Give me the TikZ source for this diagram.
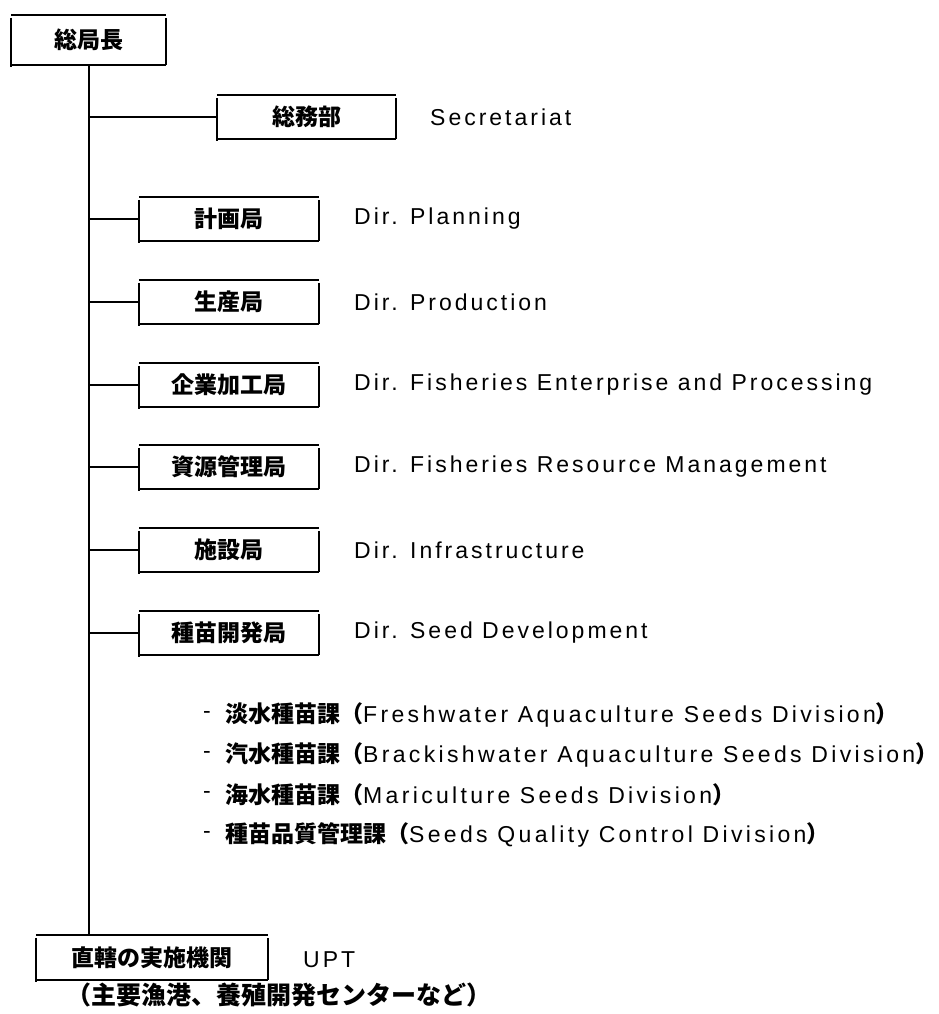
\documentclass[tikz,border=0pt]{standalone}
\usepackage{fontspec}
\setmainfont{Liberation Sans}
\newfontfamily\en{Liberation Sans}[LetterSpace=13]
\newfontfamily\ensub{Liberation Sans}[LetterSpace=14.5]
\newfontfamily\cjk{Noto Sans CJK JP}
\newcommand{\jb}{\cjk\bfseries\fontsize{23}{27}\selectfont}
\newcommand{\ensz}{\en\fontsize{23}{27}\selectfont}
\newcommand{\enssz}{\ensub\fontsize{23}{27}\selectfont}
\tikzset{
  orgbox/.style={inner sep=0pt, minimum height=44pt, font=\jb},
  lbl/.style={anchor=west, inner sep=0pt, font=\ensz},
  subline/.style={anchor=west, inner sep=0pt},
  conn/.style={line width=2pt},
  boxline/.style={line width=2pt},
}
\begin{document}
\begin{tikzpicture}[x=1pt,y=-1pt]
\useasboundingbox (0,0) rectangle (939,1014);
% boxes
\node[orgbox, minimum width=155pt, minimum height=50pt] (gm) at (88.5,40) {総局長};
\node[orgbox, minimum width=179pt] (sec) at (306.5,117) {総務部};
\node[orgbox, minimum width=180pt] (d1) at (229,219) {計画局};
\node[orgbox, minimum width=180pt] (d2) at (229,302) {生産局};
\node[orgbox, minimum width=180pt] (d3) at (229,385) {企業加工局};
\node[orgbox, minimum width=180pt] (d4) at (229,467) {資源管理局};
\node[orgbox, minimum width=180pt] (d5) at (229,550) {施設局};
\node[orgbox, minimum width=180pt] (d6) at (229,633) {種苗開発局};
\node[orgbox, minimum width=232pt, minimum height=45pt] (upt) at (152,957.5) {直轄の実施機関};
\foreach \n in {gm,sec,d1,d2,d3,d4,d5,d6,upt} {
  \draw[boxline] (\n.north west) -- (\n.north east);
  \draw[boxline] ([yshift=-3pt]\n.north west) -- ([yshift=-1.5pt]\n.south west);
  \draw[boxline] ([yshift=-3pt]\n.north east) -- (\n.south east);
  \draw[boxline] (\n.south west) -- (\n.south east);
}
% english labels
\node[lbl] (lsec) at (430,117) {Secretariat};
\node[lbl] (l1) at (354,219) {Dir. Planning};
\node[lbl] (l2) at (354,302) {Dir. Production};
\node[lbl] (l3) at (354,385) {Dir. Fisheries Enterprise and Processing};
\node[lbl] (l4) at (354,467) {Dir. Fisheries Resource Management};
\node[lbl] (l5) at (354,550) {Dir. Infrastructure};
\node[lbl] (l6) at (354,633) {Dir. Seed Development};
\node[lbl] (lupt) at (303,960) {UPT};
% sub divisions
\foreach \y/\j/\e [count=\i] in {
  715/淡水種苗課/Freshwater Aquaculture Seeds Division,
  755/汽水種苗課/Brackishwater Aquaculture Seeds Division,
  795/海水種苗課/Mariculture Seeds Division,
  835/種苗品質管理課/Seeds Quality Control Division} {
  \node[subline, font=\ensz] (dash\i) at (203,\y) {-};
  \node[subline] (s\i) at (225,\y) {{\jb \j（}{\enssz \e}{\jb ）}};
}
\node[subline, font=\cjk\bfseries\fontsize{25}{29}\selectfont] (note) at (66,995) {（主要漁港、養殖開発センターなど）};
% connectors
\coordinate (tb) at (gm.south |- upt.north);
\draw[conn] (gm.south) -- (tb);
\foreach \n in {sec,d1,d2,d3,d4,d5,d6} {
  \draw[conn] (gm.south |- \n.west) -- (\n.west);
}
\end{tikzpicture}
\end{document}
